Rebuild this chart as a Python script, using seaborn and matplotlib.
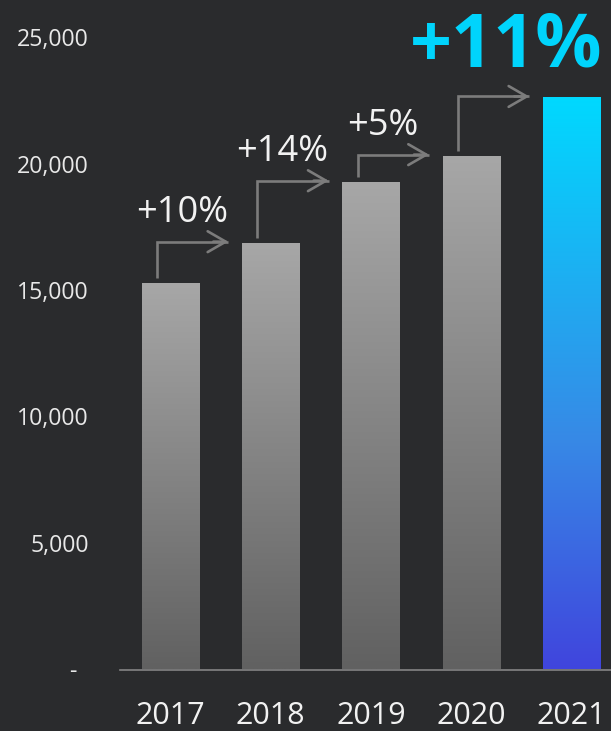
import numpy as np
import pandas as pd
import matplotlib
matplotlib.use("Agg")
import matplotlib.pyplot as plt
from matplotlib.colors import LinearSegmentedColormap
from matplotlib.ticker import FuncFormatter, FixedLocator
import seaborn as sns

# Annual totals
years = ["2017", "2018", "2019", "2020", "2021"]
revenue = [15290, 16870, 19280, 20310, 22610]
y_ticks = [0, 5000, 10000, 15000, 20000, 25000]

BG = "#2a2b2d"
ARROW = "#7c7c7c"
TEXT = "#f2f2f2"

sns.set_theme(style="dark", rc={
    "figure.facecolor": BG,
    "axes.facecolor": BG,
    "savefig.facecolor": BG,
})
plt.rcParams["font.family"] = ["Open Sans", "DejaVu Sans"]

W, H = 611, 731
fig = plt.figure(figsize=(W / 100, H / 100), dpi=100)
ax = fig.add_axes([120 / W, (H - 669.5) / H, 1 - 120 / W, 669.5 / H])
ax.set_facecolor(BG)

df = pd.DataFrame({"year": years, "revenue": revenue})
sns.barplot(data=df, x="year", y="revenue", width=0.57, color="#888888",
            saturation=1, ax=ax, zorder=2)

# Vertical gradients for the bars
gray_cmap = LinearSegmentedColormap.from_list("gray_fade", ["#616161", "#a7a7a7"])
blue_cmap = LinearSegmentedColormap.from_list(
    "blue_fade", [(0.0, "#4045dd"), (0.4, "#3789e6"), (1.0, "#00d9ff")])
grad = np.linspace(0, 1, 256).reshape(-1, 1)
bars = list(ax.patches)
for i, bar in enumerate(bars):
    x0, w, h = bar.get_x(), bar.get_width(), bar.get_height()
    cmap = blue_cmap if i == len(bars) - 1 else gray_cmap
    im = ax.imshow(grad, cmap=cmap, origin="lower", aspect="auto",
                   extent=[x0, x0 + w, 0, h], zorder=2, interpolation="bilinear")
    im.set_clip_path(bar)
    bar.set_facecolor("none")
    bar.set_edgecolor("none")

# Growth arrows and labels between consecutive years
growth = [round((revenue[i + 1] / revenue[i] - 1) * 100) for i in range(len(revenue) - 1)]
for i in range(len(revenue) - 1):
    xv = i - 0.13
    y_start = revenue[i] + 170
    y_level = revenue[i + 1] + 40
    x_tip = i + 1 - 0.42
    ax.plot([xv, xv, x_tip], [y_start, y_level, y_level], color=ARROW, lw=1.9,
            solid_joinstyle="miter", solid_capstyle="butt", zorder=3)
    ax.annotate("", xy=(x_tip, y_level), xytext=(x_tip - 0.15, y_level),
                arrowprops=dict(arrowstyle="->,head_length=1.3,head_width=0.75",
                                color=ARROW, lw=1.9, shrinkA=0, shrinkB=0,
                                mutation_scale=10), zorder=3)
    if i < len(revenue) - 2:
        ax.text(i + 0.12, y_level + 780, f"+{growth[i]}%", ha="center",
                va="baseline", fontsize=26, color=TEXT, zorder=4)

ax.text(len(revenue) - 1 + 0.305, revenue[-1] + 1220, f"+{growth[-1]}%",
        ha="right", va="baseline", fontsize=53, fontweight="bold",
        color="#00d4fc", zorder=4)

ax.set_xlim(-0.5, 4.394)
ax.set_ylim(0, 669.5 / 126.5 * 5000)

ax.yaxis.set_major_locator(FixedLocator(y_ticks))
ax.yaxis.set_major_formatter(FuncFormatter(lambda v, p: "" if v == 0 else f"{int(v):,}"))
ax.tick_params(axis="y", length=0, pad=22.5, labelsize=16.7, labelcolor="#e8e8e8")
ax.tick_params(axis="x", length=0, pad=23, labelsize=22, labelcolor=TEXT)
ax.annotate("-", xy=(0, 0), xycoords=("axes fraction", "data"),
            xytext=(-34.2, 0), textcoords="offset points", ha="center",
            va="center_baseline", fontsize=16.7, color="#e8e8e8",
            annotation_clip=False)

ax.set_xlabel("")
ax.set_ylabel("")
ax.grid(False)
for side in ["top", "right", "left"]:
    ax.spines[side].set_visible(False)
ax.spines["bottom"].set_color("#858585")
ax.spines["bottom"].set_linewidth(1.2)
ax.spines["bottom"].set_zorder(1)

fig.savefig("out.png", dpi=100, facecolor=BG)
